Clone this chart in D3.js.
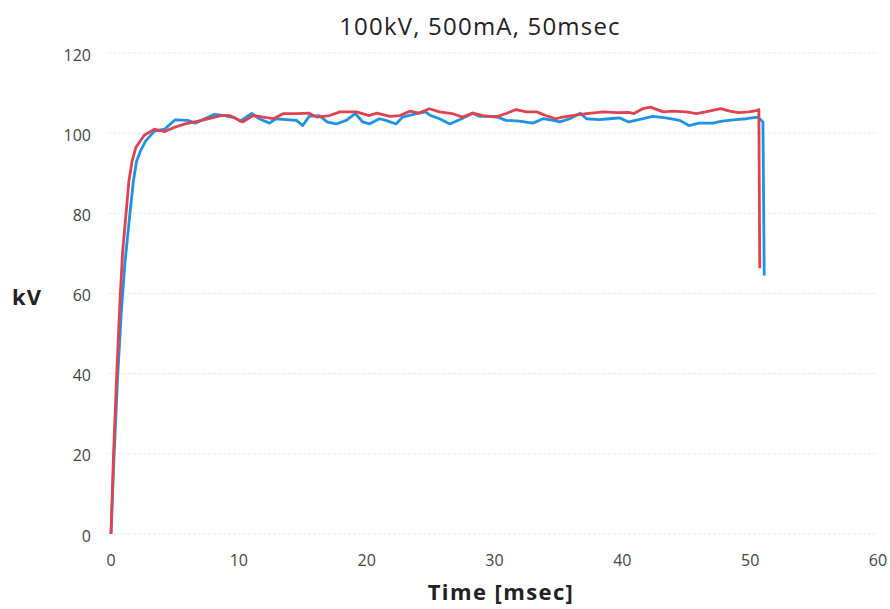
<!DOCTYPE html>
<html>
<head>
<meta charset="utf-8">
<script src="https://cdn.jsdelivr.net/npm/d3@7"></script>
<style>
  body { margin: 0; background: #ffffff; }
  svg { display: block; }
</style>
</head>
<body>
<div id="chart"></div>
<script>
// series: time in msec, tube voltage in kV
const redTime = [0, 0.2, 0.45, 0.7, 0.9, 1.15, 1.4, 1.65, 1.95, 2.6, 3.4, 4.2, 5.0, 5.8, 7.1, 8.6, 9.3, 10.3, 11.1, 11.9, 12.7, 13.5, 14.5, 15.5, 16.1, 17.1, 17.9, 19.2, 20.2, 20.8, 21.8, 22.6, 23.4, 24.1, 24.9, 25.7, 26.7, 27.5, 28.3, 29.1, 30.1, 30.9, 31.7, 32.5, 33.3, 34.0, 34.8, 35.3, 36.1, 37.2, 38.5, 39.6, 40.5, 40.9, 41.6, 42.2, 43.2, 43.9, 45.0, 45.8, 46.5, 47.7, 48.4, 49.1, 49.9, 50.6, 50.68, 50.75];
const redKv = [0, 20, 40, 58, 70, 79, 88, 93, 96.5, 99.5, 101, 100.4, 101.5, 102.3, 103.2, 104.4, 104.4, 102.8, 104.4, 104.0, 103.6, 104.9, 104.9, 105.0, 104.0, 104.4, 105.3, 105.3, 104.4, 105.0, 104.2, 104.4, 105.5, 105.0, 106.1, 105.3, 104.9, 104.0, 105.0, 104.4, 104.0, 104.9, 105.9, 105.3, 105.3, 104.4, 103.6, 104.0, 104.4, 104.9, 105.3, 105.1, 105.2, 104.9, 106.1, 106.5, 105.3, 105.5, 105.3, 104.9, 105.3, 106.1, 105.5, 105.1, 105.3, 105.7, 105.9, 66.3];

const blueTime = [0, 0.22, 0.5, 0.8, 1.1, 1.45, 1.75, 2.0, 2.3, 2.7, 3.4, 4.2, 5.0, 6.0, 6.6, 8.1, 8.9, 9.7, 10.1, 11.0, 11.6, 12.4, 12.9, 13.7, 14.5, 15.0, 15.5, 16.3, 16.9, 17.6, 18.4, 19.1, 19.7, 20.2, 21.0, 21.5, 22.3, 22.8, 23.9, 24.6, 25.0, 25.7, 26.5, 27.3, 28.3, 28.8, 30.1, 30.9, 31.95, 33.0, 33.8, 34.6, 35.1, 35.9, 36.7, 37.2, 38.2, 39.0, 39.8, 40.5, 41.3, 42.4, 43.4, 44.5, 45.2, 46.0, 47.1, 47.8, 48.9, 49.7, 50.6, 51.0, 51.1];
const blueKv = [0, 18, 38, 55, 68, 79, 88, 93, 95.5, 98, 100.5, 101, 103.3, 103.2, 102.5, 104.7, 104.4, 103.8, 103.0, 104.9, 103.6, 102.5, 103.6, 103.4, 103.2, 101.9, 104.2, 104.4, 102.8, 102.3, 103.2, 104.9, 102.8, 102.3, 103.6, 103.2, 102.3, 104.0, 104.9, 105.3, 104.4, 103.6, 102.3, 103.4, 105.0, 104.2, 104.2, 103.2, 103.0, 102.5, 103.6, 103.2, 102.8, 103.6, 105.0, 103.6, 103.4, 103.6, 103.8, 102.8, 103.4, 104.2, 103.8, 103.2, 101.9, 102.5, 102.5, 103.0, 103.4, 103.6, 104.0, 102.8, 64.5];

const xTicks = [0, 10, 20, 30, 40, 50, 60];
const yTicks = [0, 20, 40, 60, 80, 100, 120];

const titleText = "100kV, 500mA, 50msec";
const xTitle = "Time [msec]";
const yTitle = "kV";

const width = 890;
const height = 609;

const svg = d3.select("#chart").append("svg")
  .attr("width", width)
  .attr("height", height);

const xScale = d3.scaleLinear().domain([0, 60]).range([111, 878]);
const yScale = d3.scaleLinear().domain([0, 120]).range([534, 53]);

// faint horizontal grid
svg.append("g")
  .selectAll("line")
  .data(yTicks)
  .enter()
  .append("line")
  .attr("x1", xScale(0) - 3)
  .attr("x2", xScale(60))
  .attr("y1", (d) => yScale(d))
  .attr("y2", (d) => yScale(d))
  .attr("stroke", "#e8e8e8")
  .attr("stroke-width", 1)
  .attr("stroke-dasharray", "3,2");

// y tick labels
svg.append("g")
  .selectAll("text")
  .data(yTicks)
  .enter()
  .append("text")
  .attr("x", 91)
  .attr("y", (d) => yScale(d) + 2)
  .attr("dy", "0.35em")
  .attr("text-anchor", "end")
  .style("font-family", "'Open Sans', sans-serif")
  .style("font-size", "16px")
  .style("fill", "#444")
  .text((d) => d);

// x tick labels
svg.append("g")
  .selectAll("text")
  .data(xTicks)
  .enter()
  .append("text")
  .attr("x", (d) => xScale(d))
  .attr("y", 566)
  .attr("text-anchor", "middle")
  .style("font-family", "'Open Sans', sans-serif")
  .style("font-size", "16px")
  .style("fill", "#444")
  .text((d) => d);

const line = d3.line()
  .x((d) => xScale(d[0]))
  .y((d) => yScale(d[1]));

const blueData = d3.zip(blueTime, blueKv);
const redData = d3.zip(redTime, redKv);

svg.append("path")
  .datum(blueData)
  .attr("d", line)
  .attr("fill", "none")
  .attr("stroke", "#1e93e4")
  .attr("stroke-width", 2.8)
  .attr("stroke-linejoin", "round");

svg.append("path")
  .datum(redData)
  .attr("d", line)
  .attr("fill", "none")
  .attr("stroke", "#e0424f")
  .attr("stroke-width", 2.8)
  .attr("stroke-linejoin", "round");

// titles
svg.append("text")
  .attr("x", 480)
  .attr("y", 35)
  .attr("text-anchor", "middle")
  .style("font-family", "'Open Sans', sans-serif")
  .style("font-size", "24px")
  .style("letter-spacing", "1.2px")
  .style("fill", "#222")
  .text(titleText);

svg.append("text")
  .attr("x", 501)
  .attr("y", 600)
  .attr("text-anchor", "middle")
  .style("font-family", "'Open Sans', sans-serif")
  .style("font-size", "22px")
  .style("font-weight", "bold")
  .style("letter-spacing", "1.4px")
  .style("fill", "#222")
  .text(xTitle);

svg.append("text")
  .attr("x", 27)
  .attr("y", 297)
  .attr("dy", "0.35em")
  .attr("text-anchor", "middle")
  .style("font-family", "'Open Sans', sans-serif")
  .style("font-size", "22px")
  .style("font-weight", "bold")
  .style("letter-spacing", "1px")
  .style("fill", "#222")
  .text(yTitle);
</script>
</body>
</html>
